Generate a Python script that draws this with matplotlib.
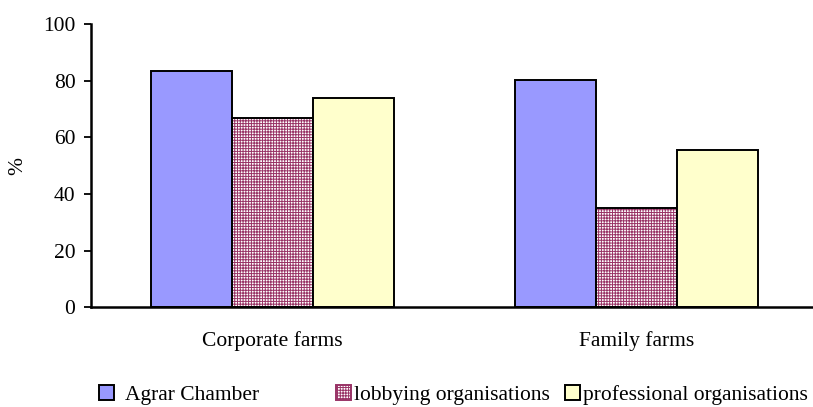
import numpy as np
import matplotlib
matplotlib.use("Agg")
import matplotlib.pyplot as plt
from matplotlib.patches import Patch

# data
categories = ["Corporate farms", "Family farms"]
series = ["Agrar Chamber", "lobbying organisations", "professional organisations"]
agrar = [83.4, 80.1]
lobbying = [66.8, 35.0]
professional = [73.8, 55.6]
yticks = [0, 20, 40, 60, 80, 100]

plt.rcParams['font.family'] = ['Liberation Serif', 'DejaVu Serif']
plt.rcParams['hatch.linewidth'] = 0.7
fs = 15.5

fig = plt.figure(figsize=(8.13, 4.07), dpi=100)
ax = fig.add_axes([90.7 / 813, 0.245, 1 - 90.7 / 813, 0.696])

x = np.arange(len(categories))
w = 0.2225
blue = '#9999FF'
yellow = '#FFFFCC'
plum = '#993366'
elw = 1.4

ax.bar(x - w, agrar, w, color=blue, edgecolor='black', linewidth=elw)
# hatched fill first, then black outline on top
ax.bar(x, lobbying, w, color='white', edgecolor=plum, hatch='++++++', linewidth=0)
ax.bar(x, lobbying, w, fill=False, edgecolor='black', linewidth=elw)
ax.bar(x + w, professional, w, color=yellow, edgecolor='black', linewidth=elw)

ax.set_xlim(-0.5, 1.5 - 6 / 364)
ax.set_ylim(0, 100)
ax.set_yticks(yticks)
ax.set_xticks(x)
ax.set_xticklabels(categories, fontsize=fs)
ax.tick_params(axis='x', length=0, pad=17)
ax.tick_params(axis='y', length=5, width=1.3, pad=6, labelsize=fs, direction='out')
for s in ['top', 'right']:
    ax.spines[s].set_visible(False)
for s in ['left', 'bottom']:
    ax.spines[s].set_linewidth(1.8)
ax.set_ylabel('%', fontsize=fs)
ax.yaxis.set_label_coords((27 - 90.7) / (813 - 90.7), 0.5)

# legend: one entry per column, placed like the original
handles = [
    Patch(facecolor=blue, edgecolor='black', linewidth=1.4),
    Patch(facecolor='white', edgecolor=plum, hatch='++++++', linewidth=1.4),
    Patch(facecolor=yellow, edgecolor='black', linewidth=1.4),
]
xs = [99, 336, 565]
pads = [0.5, 0.14, 0.14]
for h, lab, xp, tp in zip(handles, series, xs, pads):
    fig.legend([h], [lab], loc='center left', bbox_to_anchor=(xp / 813, 1 - 395 / 407),
               frameon=False, fontsize=fs, handlelength=0.7, handleheight=0.7,
               handletextpad=tp, borderpad=0, borderaxespad=0)

fig.savefig('out.png', dpi=100)
